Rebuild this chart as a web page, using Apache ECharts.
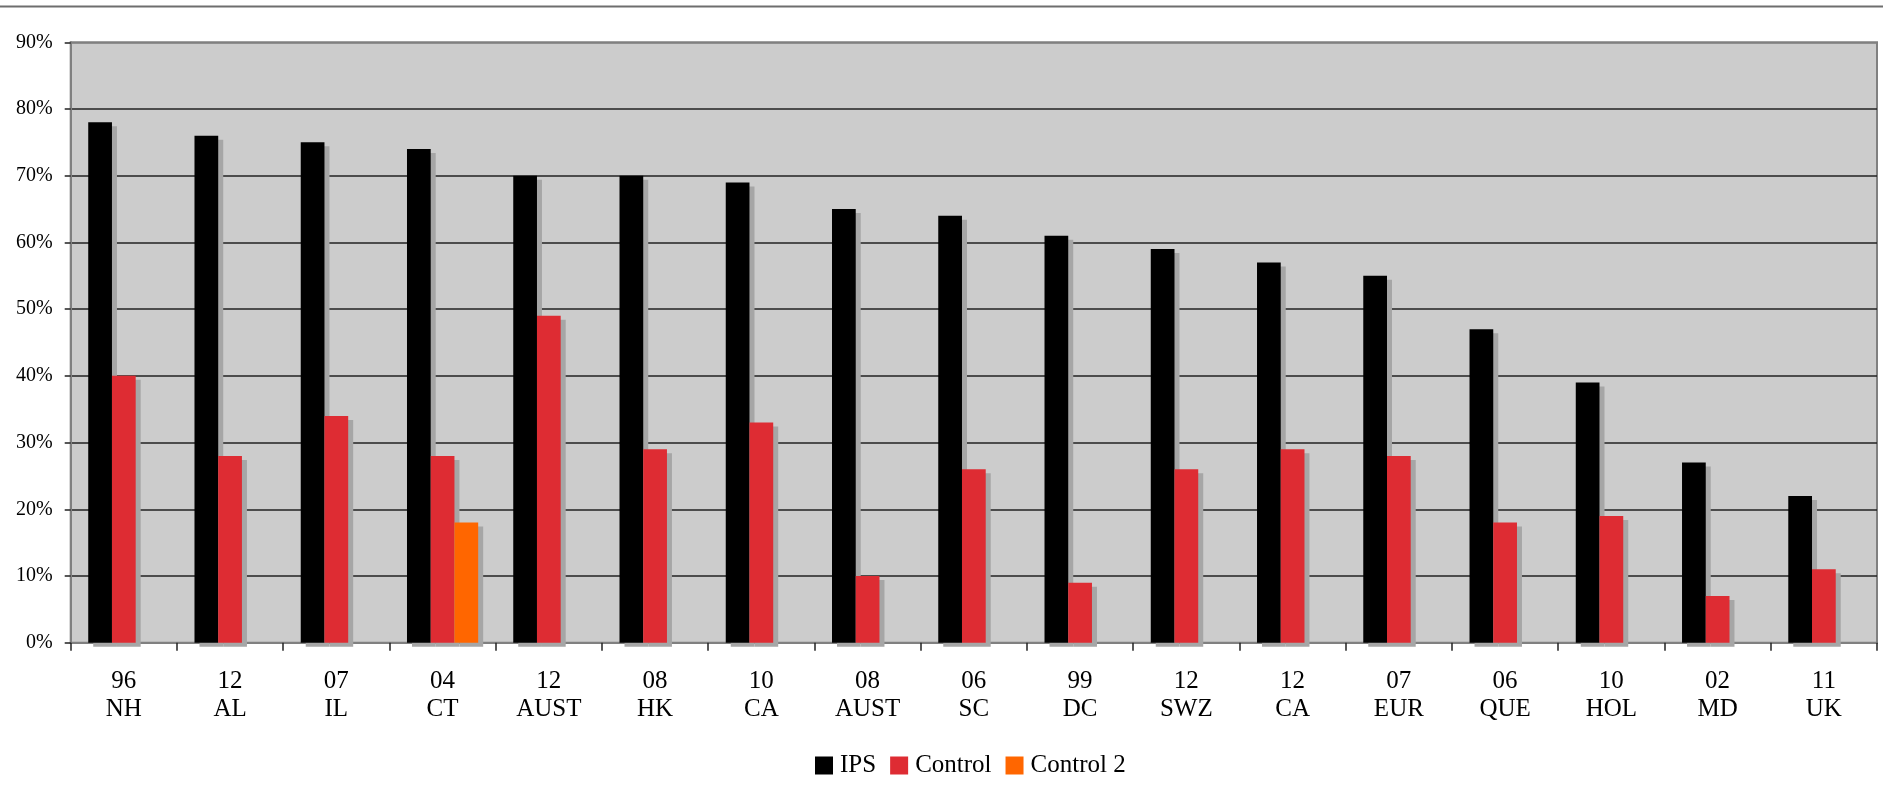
<!DOCTYPE html>
<html>
<head>
<meta charset="utf-8">
<script src="https://cdn.jsdelivr.net/npm/echarts@6/dist/echarts.min.js"></script>
<style>
html,body{margin:0;padding:0;background:#fff;}
#chart{width:1883px;height:788px;}
</style>
</head>
<body>
<div id="chart"></div>
<script>
const categories = ['96\nNH','12\nAL','07\nIL','04\nCT','12\nAUST','08\nHK','10\nCA','08\nAUST','06\nSC','99\nDC','12\nSWZ','12\nCA','07\nEUR','06\nQUE','10\nHOL','02\nMD','11\nUK'];
const ipsValues = [78,76,75,74,70,70,69,65,64,61,59,57,55,47,39,27,22];
const controlValues = [40,28,34,28,49,29,33,10,26,9,26,29,28,18,19,7,11];
const control2Values = [null,null,null,18,null,null,null,null,null,null,null,null,null,null,null,null,null];
const yTicks = [0,10,20,30,40,50,60,70,80,90];

const font = '"Liberation Serif", "Times New Roman", serif';
const shadow = {shadowColor:'#A6A6A6', shadowBlur:0, shadowOffsetX:5, shadowOffsetY:4};

const chart = echarts.init(document.getElementById('chart'));
chart.setOption({
  animation:false,
  backgroundColor:'#ffffff',
  graphic:[{type:'line', shape:{x1:0,y1:6.5,x2:1883,y2:6.5}, style:{stroke:'#6e6e6e', lineWidth:2}, z:10}],
  grid:{left:70.7, right:6, top:42.3, bottom:145.3, show:true, backgroundColor:'#CCCCCC', borderColor:'#808080', borderWidth:2},
  legend:{
    left:810, top:748, itemWidth:18, itemHeight:18, itemGap:14, icon:'rect',
    textStyle:{fontFamily:font, fontSize:25, color:'#000', padding:[0,0,0,2]},
    data:['IPS','Control','Control 2']
  },
  xAxis:{
    type:'category', data:categories,
    axisLine:{lineStyle:{color:'#808080', width:2}},
    axisTick:{show:true, length:8, lineStyle:{color:'#222', width:1.5}},
    axisLabel:{fontFamily:font, fontSize:25, color:'#000', lineHeight:28, margin:25, interval:0}
  },
  yAxis:{
    type:'value', min:yTicks[0], max:yTicks[yTicks.length-1], interval:10,
    axisLine:{show:true, lineStyle:{color:'#808080', width:2}},
    axisTick:{show:true, length:6, lineStyle:{color:'#222', width:1.5}},
    axisLabel:{fontFamily:font, fontSize:20, color:'#000', margin:18, formatter:'{value}%'},
    splitLine:{show:true, lineStyle:{color:['#222','#222','#222','#222','#222','#222','#222','#222','#222','#808080'], width:1.5}}
  },
  series:[
    {name:'IPS', type:'bar', data:ipsValues, barGap:'0%', barCategoryGap:'33%', itemStyle:Object.assign({color:'#000000'}, shadow)},
    {name:'Control', type:'bar', data:controlValues, barGap:'0%', barCategoryGap:'33%', itemStyle:Object.assign({color:'#DE2C33'}, shadow)},
    {name:'Control 2', type:'bar', data:control2Values, barGap:'0%', barCategoryGap:'33%', itemStyle:Object.assign({color:'#FF6600'}, shadow)}
  ]
});
</script>
</body>
</html>
